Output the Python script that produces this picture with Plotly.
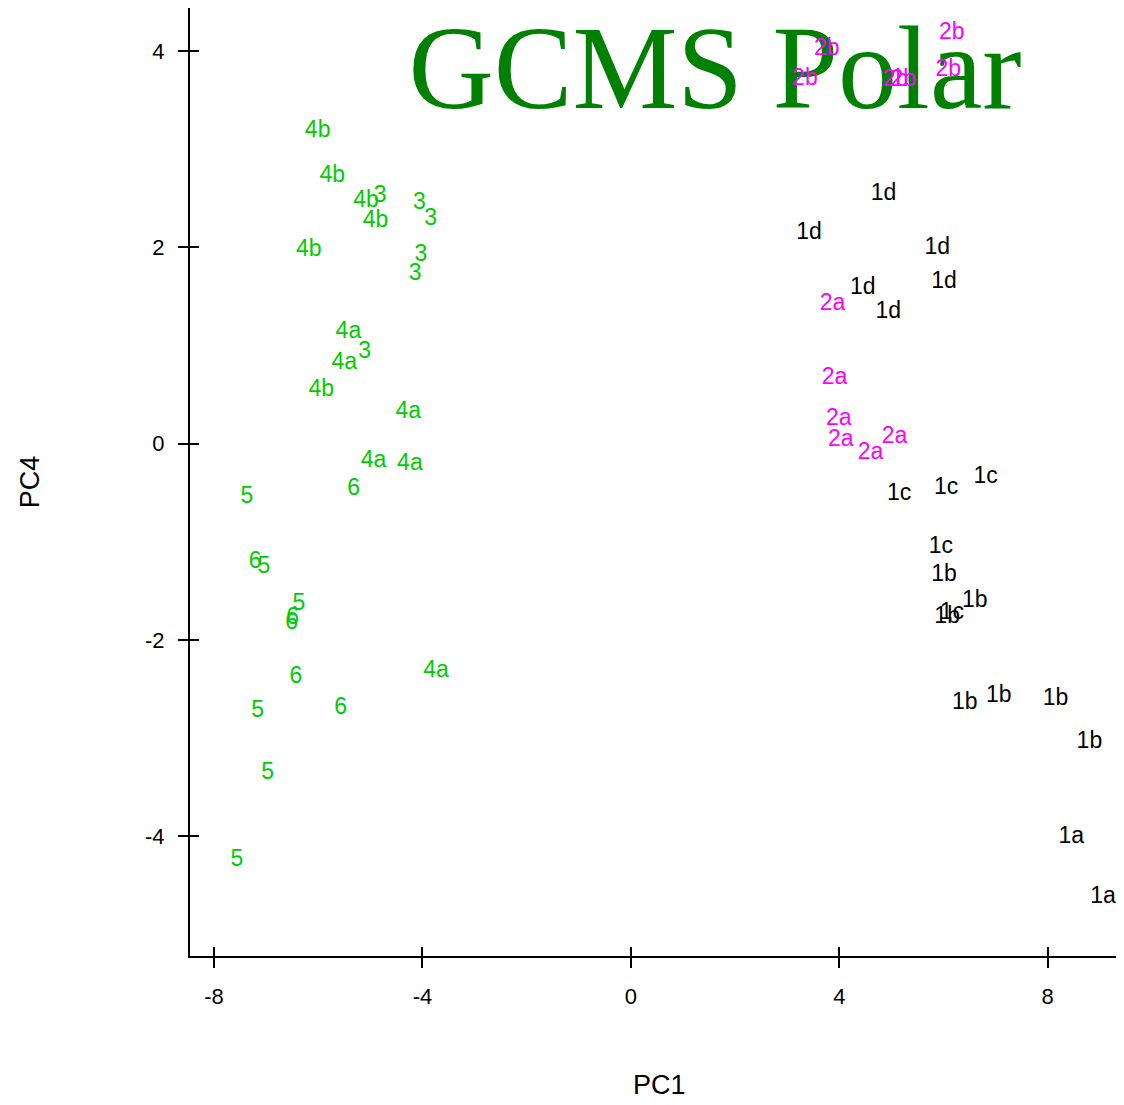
import plotly.graph_objects as go

# ---- data ----
labels = [
    "4b", "4b", "4b", "3", "4b", "3", "3", "4b", "3", "3",
    "4a", "4a", "3", "4b", "4a", "4a", "4a", "6", "5", "6",
    "5", "5", "6", "6", "6", "4a", "6", "5", "5", "5",
    "2b", "2b", "2b", "2b", "2b", "2b",
    "2a", "2a", "2a", "2a", "2a", "2a",
    "1d", "1d", "1d", "1d", "1d", "1d",
    "1c", "1c", "1c", "1c", "1b", "1b", "1b", "1c",
    "1b", "1b", "1b", "1b", "1a", "1a",
]
pc1 = [
    -6.01, -5.73, -5.08, -4.81, -4.90, -4.06, -3.84, -6.18, -4.03, -4.14,
    -5.42, -5.50, -5.11, -5.94, -4.27, -4.94, -4.24, -5.32, -7.37, -7.21,
    -7.04, -6.37, -6.49, -6.51, -6.43, -3.74, -5.57, -7.16, -6.97, -7.56,
    6.16, 3.76, 3.34, 5.08, 5.23, 6.09,
    3.87, 3.91, 3.99, 4.03, 5.06, 4.60,
    4.85, 3.42, 5.88, 6.01, 4.45, 4.94,
    6.81, 6.05, 5.15, 5.95, 6.01, 6.60, 6.07, 6.16,
    6.41, 7.06, 8.15, 8.80, 8.45, 9.06,
]
pc4 = [
    3.18, 2.73, 2.47, 2.52, 2.27, 2.45, 2.29, 1.97, 1.92, 1.73,
    1.14, 0.82, 0.93, 0.54, 0.32, -0.18, -0.21, -0.46, -0.55, -1.21,
    -1.26, -1.64, -1.78, -1.83, -2.38, -2.32, -2.70, -2.73, -3.36, -4.24,
    4.18, 4.02, 3.71, 3.70, 3.70, 3.81,
    1.42, 0.67, 0.25, 0.04, 0.07, -0.10,
    2.54, 2.14, 1.99, 1.65, 1.58, 1.34,
    -0.34, -0.45, -0.51, -1.05, -1.34, -1.61, -1.77, -1.73,
    -2.64, -2.57, -2.60, -3.04, -4.01, -4.62,
]
x_ticks = [-8, -4, 0, 4, 8]
x_ticktext = ["-8", "-4", "0", "4", "8"]
y_ticks = [-4, -2, 0, 2, 4]
y_ticktext = ["-4", "-2", "0", "2", "4"]
x_range = [-8.46, 9.31]
y_range = [-5.22, 4.44]

groups = [
    ("green", "#00CD00", lambda l: l[0] in "3456"),
    ("magenta", "#FF00FF", lambda l: l[0] == "2"),
    ("black", "#000000", lambda l: l[0] == "1"),
]

fig = go.Figure()
for name, color, pred in groups:
    idx = [i for i, l in enumerate(labels) if pred(l)]
    fig.add_trace(go.Scatter(
        x=[pc1[i] for i in idx], y=[pc4[i] for i in idx],
        text=[labels[i] for i in idx], mode="text",
        textposition="middle center",
        textfont=dict(family="Liberation Sans, Arial", size=23, color=color),
        cliponaxis=False, showlegend=False, hoverinfo="text", name=name,
    ))

# helper trace for the inside-tick overlay axes
fig.add_trace(go.Scatter(x=[None], y=[None], xaxis="x2", yaxis="y2",
                         showlegend=False, hoverinfo="skip"))

axis_common = dict(showgrid=False, zeroline=False, linecolor="black",
                   linewidth=2, tickcolor="black", tickwidth=2,
                   automargin=False)

fig.update_layout(
    width=1108, height=1089,
    margin=dict(l=182, r=0, t=0, b=141),
    plot_bgcolor="white", paper_bgcolor="white",
    font=dict(family="Liberation Sans, Arial", color="black"),
    xaxis=dict(range=x_range, tickvals=x_ticks, ticktext=x_ticktext,
               ticks="outside", ticklen=10,
               showline=True, mirror=True, ticklabelstandoff=10,
               tickfont=dict(size=22),
               **axis_common),
    yaxis=dict(range=y_range, tickvals=y_ticks, ticktext=y_ticktext,
               ticks="outside", ticklen=10,
               showline=True, mirror=False, ticklabelstandoff=9,
               tickfont=dict(size=22),
               title=dict(text="PC4", font=dict(size=27), standoff=98),
               **axis_common),
    xaxis2=dict(range=x_range, tickvals=x_ticks, ticks="inside", ticklen=9,
                overlaying="x", anchor="y2", showticklabels=False,
                showline=False, showgrid=False, zeroline=False,
                tickcolor="black", tickwidth=2),
    yaxis2=dict(range=y_range, tickvals=y_ticks, ticks="inside", ticklen=9,
                overlaying="y", anchor="x2", side="left", showticklabels=False,
                showline=False, showgrid=False, zeroline=False,
                tickcolor="black", tickwidth=2),
    annotations=[dict(
        text="PC1", xref="paper", yref="paper", x=0.5065, y=-0.136,
        xanchor="center", yanchor="middle", showarrow=False,
        font=dict(size=27, color="black"),
    )],
    shapes=[dict(
        type="rect", xref="paper", yref="paper", layer="below",
        x0=0.557, x1=0.577, y0=0.940, y1=0.960,
        line=dict(width=0), fillcolor="rgba(0,0,0,0)",
        label=dict(text="GCMS Polar", textposition="middle center",
                   font=dict(family="Liberation Serif, Times New Roman",
                             size=118, color="#008000")),
    )],
)

fig.write_html("out.html")
